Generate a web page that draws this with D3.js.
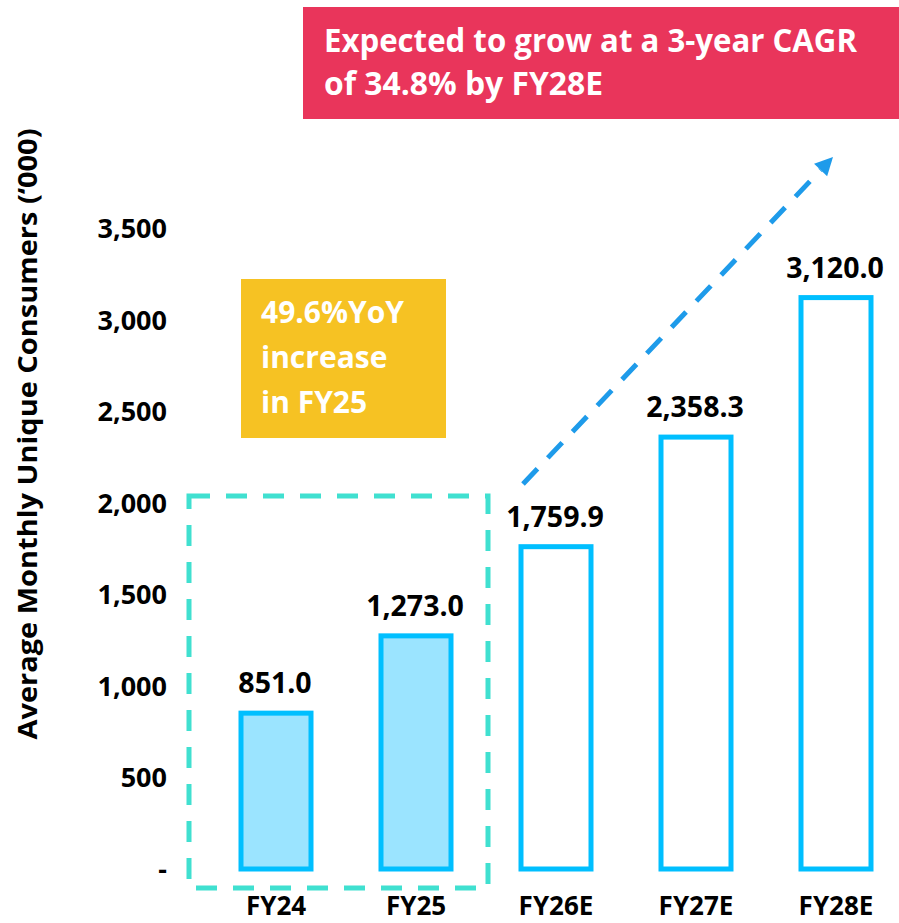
<!DOCTYPE html>
<html>
<head>
<meta charset="utf-8">
<script src="https://cdn.jsdelivr.net/npm/d3@7"></script>
<style>
  html, body { margin: 0; padding: 0; background: #fff; }
  svg { display: block; font-family: "Open Sans", "Noto Sans", sans-serif; font-weight: 700; }
</style>
</head>
<body>
<svg id="chart" width="899" height="923"></svg>
<script>
// ---- data ----
const categories = ["FY24", "FY25", "FY26E", "FY27E", "FY28E"];
const values = [851.0, 1273.0, 1759.9, 2358.3, 3120.0];
const actualFlags = [true, true, false, false, false];
const tickValues = [0, 500, 1000, 1500, 2000, 2500, 3000, 3500];
const tickLabels = ["-", "500", "1,000", "1,500", "2,000", "2,500", "3,000", "3,500"];
const valueLabels = ["851.0", "1,273.0", "1,759.9", "2,358.3", "3,120.0"];
const yTitle = "Average Monthly Unique Consumers (\u2018000)";
const cagrLines = ["Expected to grow at a 3-year CAGR", "of 34.8% by FY28E"];
const yoyLines = ["49.6%YoY", "increase", "in FY25"];

// ---- styles ----
const C = {
  barStroke: "#00BFFF",
  barFillActual: "#9BE4FF",
  box: "#40E0D0",
  arrow: "#1E9BEA",
  red: "#E9355B",
  yellow: "#F6C223",
  text: "#000"
};

const svg = d3.select("#chart");

const x = d3.scaleBand().domain(categories).range([206, 906]).paddingInner(0.5).paddingOuter(0.25);
const y = d3.scaleLinear().domain([0, 3500]).range([869, 228]);

// y axis (labels only)
const yAxis = d3.axisLeft(y).tickValues(tickValues).tickSize(0).tickPadding(0)
  .tickFormat((d, i) => tickLabels[i]);
const yg = svg.append("g").attr("transform", "translate(167,0)").call(yAxis);
yg.select(".domain").remove();
yg.selectAll("text").attr("font-size", 27).attr("font-weight", 700)
  .attr("font-family", "'Open Sans', sans-serif").attr("fill", C.text).attr("dy", "0.35em");

// x axis labels
const xAxis = d3.axisBottom(x).tickSize(0).tickPadding(0);
const xg = svg.append("g").attr("transform", "translate(0,915)").call(xAxis);
xg.select(".domain").remove();
xg.selectAll("text").attr("font-size", 26).attr("font-weight", 700)
  .attr("font-family", "'Open Sans', sans-serif").attr("fill", C.text).attr("dy", "0");

// y title
svg.append("text")
  .attr("transform", "translate(37,434) rotate(-90)")
  .attr("text-anchor", "middle")
  .attr("font-size", 27.5)
  .attr("textLength", 611).attr("lengthAdjust", "spacingAndGlyphs")
  .attr("fill", C.text)
  .text(yTitle);

// dashed box around actuals
svg.append("rect")
  .attr("x", 189).attr("y", 496).attr("width", 299).attr("height", 392)
  .attr("fill", "none").attr("stroke", C.box).attr("stroke-width", 5)
  .attr("stroke-dasharray", "21,16");

// bars
svg.append("g").selectAll("rect").data(categories).join("rect")
  .attr("x", d => x(d))
  .attr("width", x.bandwidth())
  .attr("y", (d, i) => y(values[i]))
  .attr("height", (d, i) => y(0) - y(values[i]))
  .attr("fill", (d, i) => actualFlags[i] ? C.barFillActual : "#fff")
  .attr("stroke", C.barStroke)
  .attr("stroke-width", 5);

// value labels
svg.append("g").selectAll("text").data(categories).join("text")
  .attr("x", d => x(d) + x.bandwidth() / 2 - 1)
  .attr("y", (d, i) => y(values[i]) - 20)
  .attr("text-anchor", "middle")
  .attr("font-size", 28.5)
  .attr("fill", C.text)
  .text((d, i) => valueLabels[i]);

// yellow callout
svg.append("rect").attr("x", 241).attr("y", 279).attr("width", 205).attr("height", 159).attr("fill", C.yellow);
svg.append("g").selectAll("text").data(yoyLines).join("text")
  .attr("x", 261)
  .attr("y", (d, i) => 323 + i * 45)
  .attr("font-size", 30)
  .attr("fill", "#fff")
  .text(d => d);

// red callout
svg.append("rect").attr("x", 303).attr("y", 7).attr("width", 600).attr("height", 112).attr("fill", C.red);
const cagrLen = [533, 279];
svg.append("g").selectAll("text").data(cagrLines).join("text")
  .attr("x", 324)
  .attr("y", (d, i) => 52 + i * 43)
  .attr("font-size", 33)
  .attr("textLength", (d, i) => cagrLen[i]).attr("lengthAdjust", "spacingAndGlyphs")
  .attr("fill", "#fff")
  .text(d => d);

// dashed growth arrow
const a0 = [523, 484], a1 = [833, 157];
const ang = Math.atan2(a1[1] - a0[1], a1[0] - a0[0]);
const headLen = 18, headW = 9;
const base = [a1[0] - headLen * Math.cos(ang), a1[1] - headLen * Math.sin(ang)];
svg.append("line")
  .attr("x1", a0[0]).attr("y1", a0[1]).attr("x2", base[0]).attr("y2", base[1])
  .attr("stroke", C.arrow).attr("stroke-width", 5).attr("stroke-dasharray", "21,15");
const px = -Math.sin(ang), py = Math.cos(ang);
svg.append("path")
  .attr("d", d3.line()([
    a1,
    [base[0] + px * headW, base[1] + py * headW],
    [base[0] - px * headW, base[1] - py * headW]
  ]) + "Z")
  .attr("fill", C.arrow);
</script>
</body>
</html>
